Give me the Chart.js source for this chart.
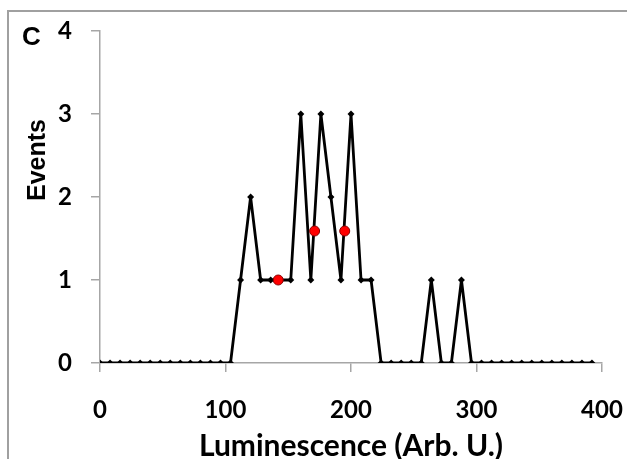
<!DOCTYPE html>
<html>
<head>
<meta charset="utf-8">
<script src="https://cdn.jsdelivr.net/npm/chart.js@4.4.1/dist/chart.umd.min.js"></script>
<style>
  html, body { margin: 0; padding: 0; background: #fff; }
  #wrap { position: relative; width: 627px; height: 459px; overflow: hidden; }
  #frame { position: absolute; left: 7px; top: 10px; width: 640px; height: 480px;
           border-left: 2px solid #a0a0a0; border-top: 2px solid #a0a0a0; }
  canvas { position: absolute; left: 0; top: 0; }
</style>
</head>
<body>
<div id="wrap">
  <div id="frame"></div>
  <canvas id="chart" width="627" height="459"></canvas>
</div>
<script>
// 数据
const luminescence = [0, 8, 16, 24, 32, 40, 48, 56, 64, 72, 80, 88, 96, 104,
    112, 120, 128, 136, 144, 152, 160, 168, 176, 184, 192, 200, 208, 216,
    224, 232, 240, 248, 256, 264, 272, 280, 288, 296, 304, 312, 320, 328,
    336, 344, 352, 360, 368, 376, 384, 392];
const events = [0, 0, 0, 0, 0, 0, 0, 0, 0, 0, 0, 0, 0, 0,
    1, 2, 1, 1, 1, 1, 3, 1, 3, 2, 1, 3, 1, 1,
    0, 0, 0, 0, 0, 1, 0, 0, 1, 0, 0, 0, 0, 0,
    0, 0, 0, 0, 0, 0, 0, 0];
const redX = [142, 171, 195];
const redY = [1, 1.59, 1.59];
const xTicks = [0, 100, 200, 300, 400];
const yTicks = [0, 1, 2, 3, 4];

const axisColor = '#a6a6a6';
const tickFont = { family: 'Lato, "Liberation Sans", sans-serif', size: 24, weight: 'bold' };

// 面板字母和纵轴标题
const labelsPlugin = {
    id: 'labels',
    afterDraw(chart) {
        const c = chart.ctx;
        c.save();
        c.fillStyle = '#000';
        c.font = 'bold 26px "Liberation Sans", Arial, sans-serif';
        c.textAlign = 'left';
        c.textBaseline = 'alphabetic';
        c.fillText('C', 22, 45);
        c.translate(45, 160);
        c.rotate(-Math.PI / 2);
        c.textAlign = 'center';
        c.font = 'bold 25px "Liberation Sans", Arial, sans-serif';
        c.fillText('Events', 0, 0);
        c.restore();
    }
};

const ctx = document.getElementById('chart');
new Chart(ctx, {
    type: 'line',
    data: {
        datasets: [{
            label: 'mean',
            data: redX.map((x, i) => ({ x: x, y: redY[i] })),
            showLine: false,
            pointRadius: 5,
            pointBackgroundColor: '#ff0000',
            pointBorderColor: '#8b0000',
            pointBorderWidth: 1,
            order: 0
        }, {
            label: 'events',
            data: luminescence.map((x, i) => ({ x: x, y: events[i] })),
            borderColor: '#000',
            borderWidth: 2.8,
            borderJoinStyle: 'round',
            tension: 0,
            pointStyle: 'rectRot',
            pointRadius: 3.5,
            pointBackgroundColor: '#000',
            pointBorderColor: '#000',
            pointBorderWidth: 0,
            order: 1
        }]
    },
    options: {
        responsive: false,
        animation: false,
        layout: { padding: { left: 0, top: 31, right: 25, bottom: 0 } },
        plugins: { legend: { display: false }, tooltip: { enabled: false } },
        scales: {
            x: {
                type: 'linear',
                min: 0, max: 400,
                afterBuildTicks: s => { s.ticks = xTicks.map(v => ({ value: v })); },
                afterFit: s => { s.height = 96; s.paddingLeft = 0; s.paddingRight = 0; },
                grid: { drawOnChartArea: false, drawTicks: true, tickLength: 9, color: axisColor, lineWidth: 1.5 },
                border: { color: axisColor, width: 1.5 },
                ticks: { color: '#000', font: tickFont, padding: 24, maxRotation: 0 },
                title: {
                    display: true,
                    text: 'Luminescence (Arb. U.)',
                    color: '#000',
                    font: { family: 'Lato, "Liberation Sans", sans-serif', size: 30, weight: 'bold', lineHeight: 0.8 },
                    padding: { top: 0, bottom: 0.5 }
                }
            },
            y: {
                min: 0, max: 4,
                afterBuildTicks: s => { s.ticks = yTicks.map(v => ({ value: v })); },
                afterFit: s => { s.width = 100; s.paddingTop = 0; s.paddingBottom = 0; },
                grid: { drawOnChartArea: false, drawTicks: true, tickLength: 9, color: axisColor, lineWidth: 1.5 },
                border: { color: axisColor, width: 1.5 },
                ticks: { color: '#000', font: tickFont, padding: 19 }
            }
        }
    },
    plugins: [labelsPlugin]
});
</script>
</body>
</html>
